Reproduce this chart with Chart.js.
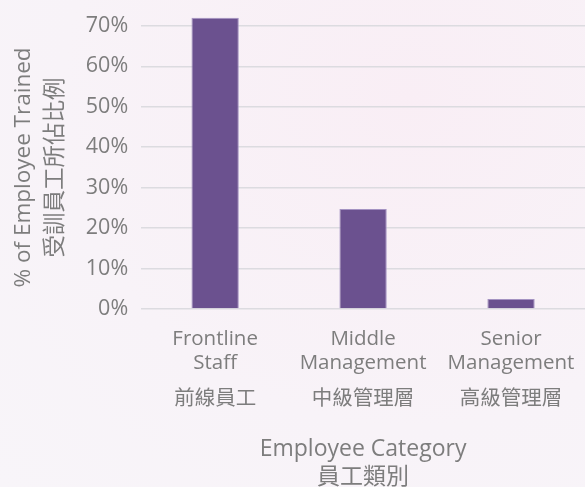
<!DOCTYPE html>
<html>
<head>
<meta charset="utf-8">
<script src="https://cdn.jsdelivr.net/npm/chart.js@4/dist/chart.umd.min.js"></script>
<style>
  html, body { margin: 0; padding: 0; overflow: hidden; }
  body { width: 585px; height: 487px; background: radial-gradient(ellipse at 70% 20%, #f9eef5 0%, #f8f3f8 60%, #f8f5f9 100%); }
  #wrap { position: relative; width: 585px; height: 500px; }
</style>
</head>
<body>
<div id="wrap"><canvas id="c"></canvas></div>
<script>
const categoryEn = [
  ["Frontline", "Staff"],
  ["Middle", "Management"],
  ["Senior", "Management"]
];
const categoryZh = ["前線員工", "中級管理層", "高級管理層"];
const trainedPct = [72, 24.7, 2.5];
const yTickValues = [0, 10, 20, 30, 40, 50, 60, 70];
const yTitle = ["% of Employee Trained", "受訓員工所佔比例"];
const xTitle = ["Employee Category", "員工類別"];

// multi-line tick labels: half-height spacer lines give the gap before the Chinese line
const labels = categoryEn.map((en, i) => [en[0], "", en[1], "", "", categoryZh[i]]);

const FONT = "'Open Sans', 'Noto Sans CJK TC', sans-serif";
const TEXT = "#7d7d7d";

new Chart(document.getElementById('c'), {
  type: 'bar',
  data: {
    labels: labels,
    datasets: [{
      data: trainedPct,
      backgroundColor: '#6b518f',
      borderColor: '#a493c2',
      borderWidth: 1,
      barPercentage: 0.32,
      categoryPercentage: 1,
      clip: false
    }]
  },
  options: {
    responsive: true,
    maintainAspectRatio: false,
    animation: false,
    layout: { padding: { top: 24, left: 3, right: 0, bottom: 0 } },
    plugins: { legend: { display: false }, tooltip: { enabled: false } },
    scales: {
      x: {
        grid: { display: false, drawTicks: false },
        border: { display: false },
        afterFit: (scale) => { scale.paddingRight = 0; scale.paddingLeft = 0; },
        ticks: {
          color: TEXT,
          font: { family: FONT, size: 20.5, lineHeight: '12px' },
          padding: 24,
          maxRotation: 0,
          autoSkip: false
        },
        title: {
          display: true,
          text: xTitle,
          color: TEXT,
          font: { family: FONT, size: 23, lineHeight: 1.25 },
          padding: { top: 5.6, bottom: 7.9 }
        }
      },
      y: {
        min: 0,
        max: 70,
        afterBuildTicks: (scale) => { scale.ticks = yTickValues.map(v => ({ value: v })); },
        grid: { color: '#dcdbe0', lineWidth: 1.5, drawTicks: false },
        border: { display: false },
        ticks: {
          color: TEXT,
          font: { family: FONT, size: 21.5 },
          padding: 13,
          callback: (v) => v + '%'
        },
        title: {
          display: true,
          text: yTitle,
          color: TEXT,
          font: { family: FONT, size: 22.5, lineHeight: 1.44 },
          padding: { top: 4, bottom: 1 }
        }
      }
    }
  }
});
</script>
</body>
</html>
